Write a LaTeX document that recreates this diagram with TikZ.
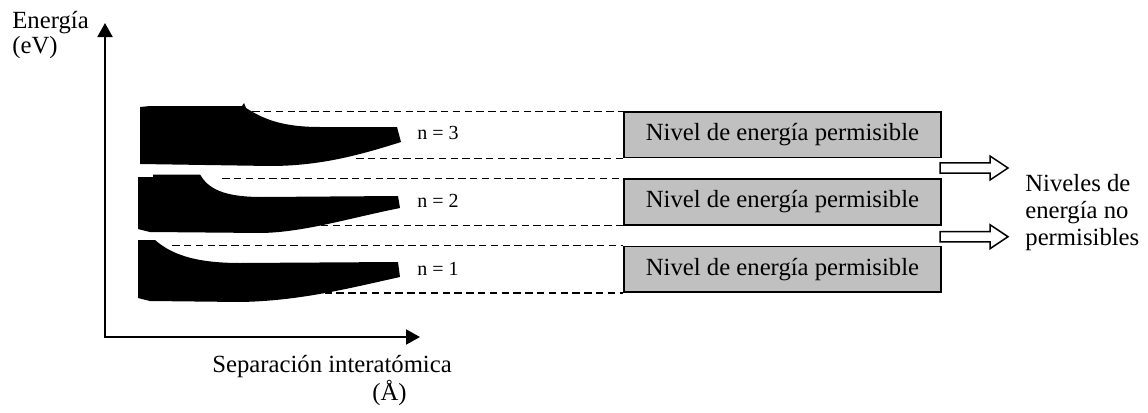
\documentclass[tikz,border=0pt]{standalone}
\usepackage{fontspec}
\setmainfont{Liberation Serif}
\usetikzlibrary{arrows.meta}
\definecolor{levelgray}{RGB}{192,192,192}
\begin{document}
\begin{tikzpicture}[x=0.5pt,y=-0.5pt,
  lbl/.style={inner sep=0pt, anchor=base west, align=left},
  nlbl/.style={font=\fontsize{10}{12}\selectfont, inner sep=0pt, anchor=base west},
  level/.style={draw=black, line width=0.85pt, fill=levelgray,
    minimum width=158.5pt, minimum height=22.7pt, inner sep=0pt,
    font=\fontsize{12.35}{14}\selectfont},
  guide/.style={dash pattern=on 3.7pt off 2.2pt, line width=0.65pt},
  axis/.style={line width=1pt, line join=miter,
    {Triangle[length=7pt,width=7.5pt]}-{Triangle[length=7pt,width=7.5pt]}},
  band/.style={fill=black, draw=none},
  hollow/.style={draw=black, fill=white, line width=0.75pt, line join=miter}]
\useasboundingbox (0,0) rectangle (1148,413);

% axes
\coordinate (origin) at (105,337);
\coordinate (ytip) at (105,23);
\coordinate (xtip) at (420,337);
\draw[axis] (ytip) -- (origin) -- (xtip);

% allowed energy levels
\node[level] (lv3) at (782.5,134.7) {Nivel de energía permisible};
\node[level] (lv2) at (782.5,202)   {Nivel de energía permisible};
\node[level] (lv1) at (782.5,269.3) {Nivel de energía permisible};

% dashed guides from the bands to the level boxes
\path (lv3.north west) ++(-371,0) coordinate (g3t);
\path (lv3.south west) ++(-267,0) coordinate (g3b);
\path (lv2.north west) ++(-401,0) coordinate (g2t);
\path (lv2.south west) ++(-314,0) coordinate (g2b);
\path (lv1.north west) ++(-451,0) coordinate (g1t);
\path (lv1.south west) ++(-334,0) coordinate (g1b);
\draw[guide] (g3t) -- (lv3.north west);
\draw[guide] (g3b) -- (lv3.south west);
\draw[guide] (g2t) -- (lv2.north west);
\draw[guide] (g2b) -- (lv2.south west);
\draw[guide] (g1t) -- (lv1.north west);
\draw[guide] (g1b) -- (lv1.south west);

% energy bands versus interatomic separation
\fill[band] (140,107) -- (150,106) -- (242,106) -- (244,103) -- (246,108)
  .. controls (262,118) and (280,127) .. (320,127) -- (397,127) -- (401,142)
  .. controls (360,155) and (320,166) .. (270,166) -- (140,164) -- cycle;
\fill[band] (138,177) -- (153,177) -- (153,174.5) -- (200,174.5)
  .. controls (208,188) and (222,197) .. (262,197) -- (398,196) -- (400,208)
  .. controls (350,218) and (305,232) .. (262,233) -- (150,232) -- (138,229) -- cycle;
\fill[band] (138,240) -- (155,240)
  .. controls (170,253) and (192,263) .. (240,263) -- (398,262) -- (400,277)
  .. controls (350,288) and (300,301) .. (240,302) -- (150,301) -- (138,298) -- cycle;

% quantum numbers
\node[nlbl] (n3) at (417,139) {n = 3};
\node[nlbl] (n2) at (417,207) {n = 2};
\node[nlbl] (n1) at (417,275) {n = 1};

% hollow arrows towards the forbidden gaps
\coordinate (a1) at (940,168);
\coordinate (a2) at (940,236.7);
\draw[hollow] (a1) ++(0,-5.2) -- ++(50,0) -- ++(0,-6.8) -- ++(18,12)
  -- ++(-18,12) -- ++(0,-6.8) -- ++(-50,0) -- cycle;
\draw[hollow] (a2) ++(0,-5.2) -- ++(50,0) -- ++(0,-6.8) -- ++(18,12)
  -- ++(-18,12) -- ++(0,-6.8) -- ++(-50,0) -- cycle;

% labels (anchored at the baseline of their last line)
\node[lbl, font=\fontsize{12.35}{10.5}\selectfont] (ylab) at (12,53) {Energía\\(eV)};
\node[lbl, font=\fontsize{12.35}{12.5}\selectfont] (xlab) at (212,400)
  {Separación interatómica\\\hspace*{80pt}(Å)};
\node[lbl, font=\fontsize{12.35}{13.5}\selectfont] (gaplab) at (1025,245)
  {Niveles de\\energía no\\permisibles};
\end{tikzpicture}
\end{document}
